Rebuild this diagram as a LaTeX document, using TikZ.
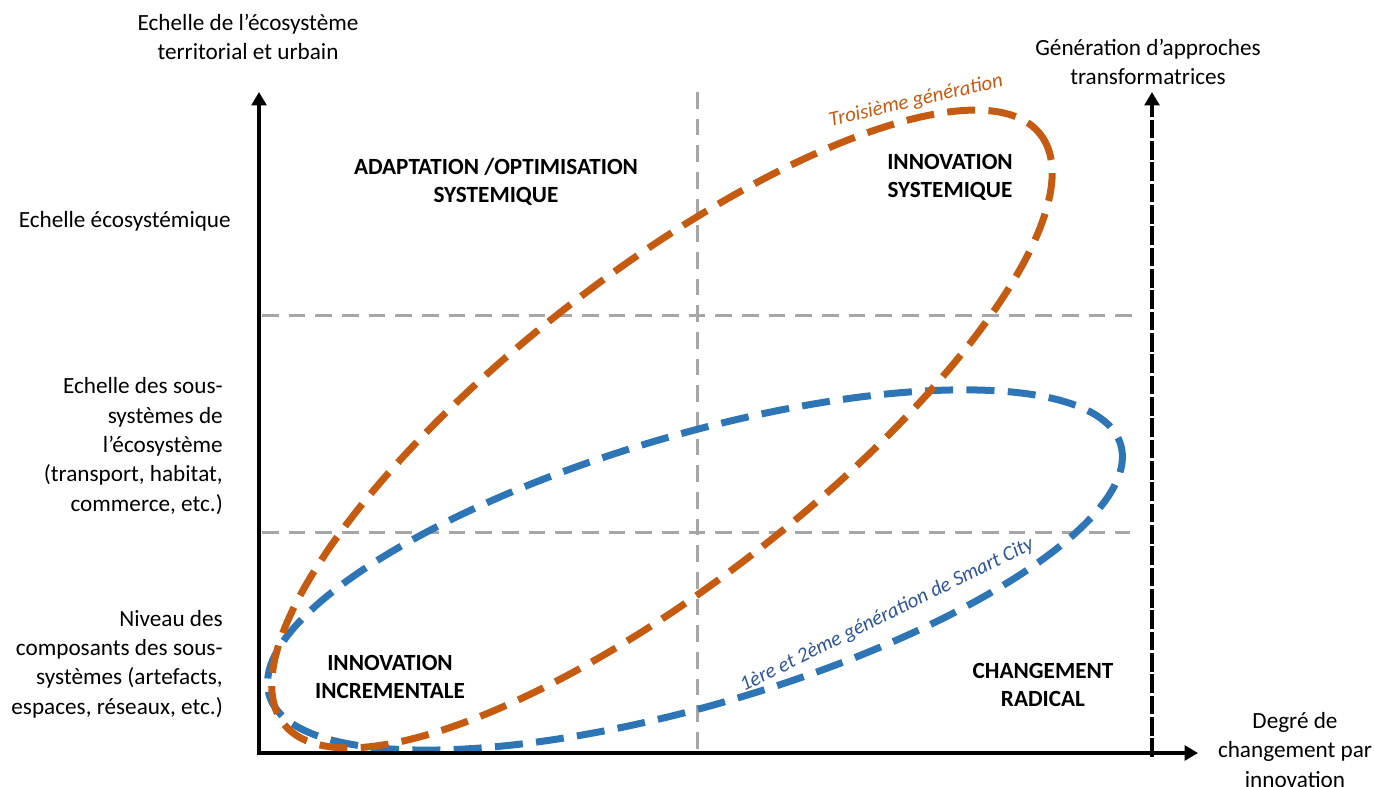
\documentclass[tikz,border=0pt]{standalone}
\usepackage{fontspec}
\setmainfont{Carlito}
\usetikzlibrary{arrows.meta}
\definecolor{orangegen}{HTML}{C55A11}
\definecolor{bleugen}{HTML}{2E75B6}
\definecolor{bleutexte}{HTML}{2F5597}
\definecolor{grisgrille}{HTML}{A6A6A6}

\def\taille{17.4}
\def\interligne{22}

\begin{document}
\begin{tikzpicture}[x=0.75pt,y=-0.75pt]
\tikzstyle{axe}=[line width=3pt,line cap=rect,-{Triangle[length=10pt,width=11pt]}]
\tikzstyle{grille}=[line width=2.25pt,grisgrille,dash pattern=on 12.5pt off 7.5pt]
\tikzstyle{generation}=[line width=5.25pt,dash pattern=on 21pt off 10pt]
\tikzstyle{niveau}=[align=right,anchor=east,inner sep=0pt,font=\fontsize{\taille}{\interligne}\selectfont]
\tikzstyle{titre}=[align=center,inner sep=0pt,font=\fontsize{\taille}{\interligne}\selectfont]
\tikzstyle{zone}=[align=center,inner sep=0pt,font=\bfseries\fontsize{\taille}{21}\selectfont]
\tikzstyle{etiquette}=[inner sep=0pt,font=\itshape\fontsize{15.6}{17}\selectfont]

\useasboundingbox (0,0) rectangle (1374,787);

% axes
\coordinate (O) at (259,753);
\coordinate (Yhaut) at (259,92);
\coordinate (Xfin) at (1198,753);
\coordinate (Gbas) at (1152,755);
\coordinate (Ghaut) at (1152,92);

% grille
\coordinate (Vhaut) at (697,92);
\coordinate (Vbas) at (697,753);
\coordinate (H1g) at (262,316);
\coordinate (H1d) at (1132,316);
\coordinate (H2g) at (262,532);
\coordinate (H2d) at (1130,532);
\draw[grille] (Vhaut)--(Vbas);
\draw[grille] (H1g)--(H1d);
\draw[grille] (H2g)--(H2d);

% generations
\coordinate (Cbleu) at (695,570);
\coordinate (Corange) at (662,429);
\draw[generation,bleugen,rotate around={16.4:(Cbleu)}] (Cbleu) ellipse [x radius=443.8,y radius=134.9];
\draw[generation,orangegen,rotate around={37.9:(Corange)}] (Corange) ellipse [x radius=479.6,y radius=154.5];

\draw[axe] (O)--(Yhaut);
\draw[axe] (O)--(Xfin);
\draw[axe,dash pattern=on 11pt off 5pt] (Gbas)--(Ghaut);

% textes des axes
\node[titre] (titreY) at (248,37) {Echelle de l’écosystème\\territorial et urbain};
\node[titre] (titreG) at (1148,62) {Génération d’approches\\transformatrices};
\node[titre] (titreX) at (1295,750) {Degré de\\changement par\\innovation};

\node[niveau] (eco) at (231,221) {Echelle écosystémique};
\node[niveau] (sous) at (223,446) {Echelle des sous-\\systèmes de\\l’écosystème\\(transport, habitat,\\commerce, etc.)};
\node[niveau] (comp) at (223,664) {Niveau des\\composants des sous-\\systèmes (artefacts,\\espaces, réseaux, etc.)};

% zones
\node[zone] (adapt) at (496,182) {ADAPTATION /OPTIMISATION\\SYSTEMIQUE};
\node[zone] (innsys) at (950,177) {INNOVATION\\SYSTEMIQUE};
\node[zone] (incr) at (390,677) {INNOVATION\\INCREMENTALE};
\node[zone] (radical) at (1043,685) {CHANGEMENT\\RADICAL};

\node[etiquette,orangegen,rotate=13] (troisieme) at (916,101) {Troisième génération};
\node[etiquette,bleutexte,rotate=26.3] (smart) at (887,615) {1ère et 2ème génération de Smart City};

\end{tikzpicture}
\end{document}
